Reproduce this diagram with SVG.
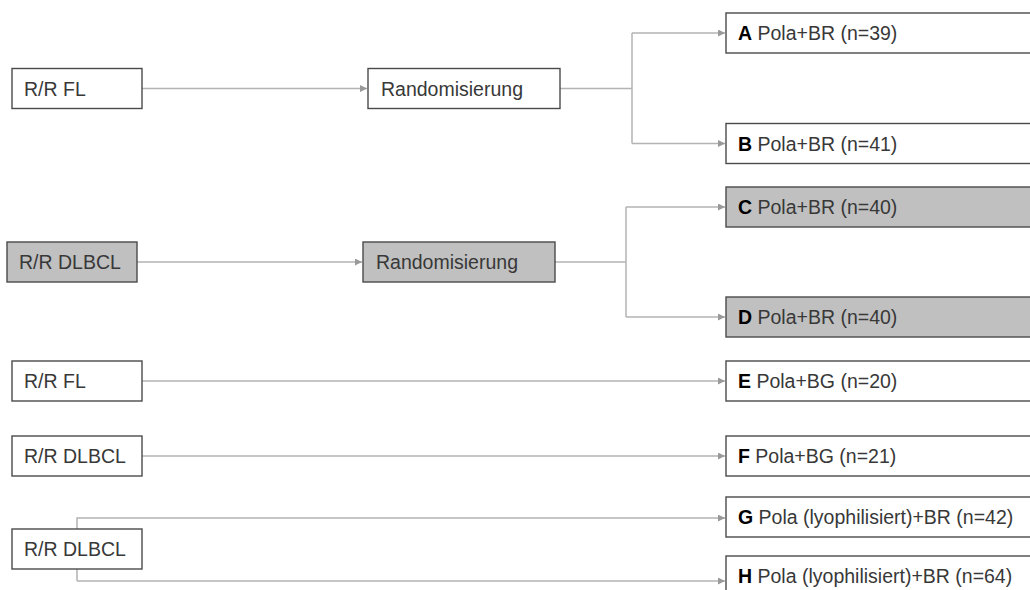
<svg xmlns="http://www.w3.org/2000/svg" width="1030" height="590" viewBox="0 0 1030 590">
<style>
.box{fill:#fff;stroke:#4a4a4a;stroke-width:1.4}
.gray{fill:#c0c0c0}
.lbl{font-family:"Liberation Sans",Arial,sans-serif;font-size:19.5px;fill:#383838}
.b{font-weight:bold;fill:#000}
.con{fill:none;stroke:#b3b3b3;stroke-width:1.5}
</style>
<defs>
<marker id="ah" viewBox="0 0 10 10" refX="10" refY="5" markerUnits="userSpaceOnUse" markerWidth="9" markerHeight="7" orient="auto">
<path d="M0,0 L10,5 L0,10 z" fill="#999"/>
</marker>
</defs>
<rect width="1030" height="590" fill="#fff"/>
<g id="connectors">
<path class="con" d="M142,88.5 H367" marker-end="url(#ah)"/>
<path class="con" d="M560,88.5 H632"/>
<path class="con" d="M632,33 V143.5"/>
<path class="con" d="M632,33 H725" marker-end="url(#ah)"/>
<path class="con" d="M632,143.5 H725" marker-end="url(#ah)"/>
<path class="con" d="M137,262 H362" marker-end="url(#ah)"/>
<path class="con" d="M555,262 H626"/>
<path class="con" d="M626,207 V317"/>
<path class="con" d="M626,207 H725" marker-end="url(#ah)"/>
<path class="con" d="M626,317 H725" marker-end="url(#ah)"/>
<path class="con" d="M142,381 H725" marker-end="url(#ah)"/>
<path class="con" d="M142,456 H725" marker-end="url(#ah)"/>
<path class="con" d="M77,581 V518 H725" marker-end="url(#ah)"/>
<path class="con" d="M77,581 H725" marker-end="url(#ah)"/>
</g>
<g id="n1"><rect class="box" x="12" y="68.5" width="130" height="40"/><text class="lbl" x="24" y="95.5">R/R FL</text></g>
<g id="n2"><rect class="box" x="368" y="68.5" width="192" height="40"/><text class="lbl" x="381" y="95.5">Randomisierung</text></g>
<g id="nA"><rect class="box" x="726" y="13" width="306" height="40"/><text class="lbl" x="738" y="40"><tspan class="b">A</tspan> Pola+BR (n=39)</text></g>
<g id="nB"><rect class="box" x="726" y="123.5" width="306" height="40"/><text class="lbl" x="738" y="150.5"><tspan class="b">B</tspan> Pola+BR (n=41)</text></g>
<g id="n3"><rect class="box gray" x="7" y="242" width="130" height="40"/><text class="lbl" x="19" y="269">R/R DLBCL</text></g>
<g id="n4"><rect class="box gray" x="363" y="242" width="192" height="40"/><text class="lbl" x="376" y="269">Randomisierung</text></g>
<g id="nC"><rect class="box gray" x="726" y="187" width="306" height="40"/><text class="lbl" x="738" y="214"><tspan class="b">C</tspan> Pola+BR (n=40)</text></g>
<g id="nD"><rect class="box gray" x="726" y="297" width="306" height="40"/><text class="lbl" x="738" y="324"><tspan class="b">D</tspan> Pola+BR (n=40)</text></g>
<g id="n5"><rect class="box" x="12" y="361" width="130" height="40"/><text class="lbl" x="24" y="388">R/R FL</text></g>
<g id="nE"><rect class="box" x="726" y="361" width="306" height="40"/><text class="lbl" x="738" y="388"><tspan class="b">E</tspan> Pola+BG (n=20)</text></g>
<g id="n6"><rect class="box" x="12" y="436" width="130" height="40"/><text class="lbl" x="24" y="463">R/R DLBCL</text></g>
<g id="nF"><rect class="box" x="726" y="436" width="306" height="40"/><text class="lbl" x="738" y="463"><tspan class="b">F</tspan> Pola+BG (n=21)</text></g>
<g id="n7"><rect class="box" x="12" y="529" width="130" height="40"/><text class="lbl" x="24" y="556">R/R DLBCL</text></g>
<g id="nG"><rect class="box" x="726" y="497" width="306" height="40"/><text class="lbl" x="738" y="524"><tspan class="b">G</tspan> Pola (lyophilisiert)+BR (n=42)</text></g>
<g id="nH"><rect class="box" x="726" y="556" width="306" height="40"/><text class="lbl" x="738" y="583"><tspan class="b">H</tspan> Pola (lyophilisiert)+BR (n=64)</text></g>
</svg>
